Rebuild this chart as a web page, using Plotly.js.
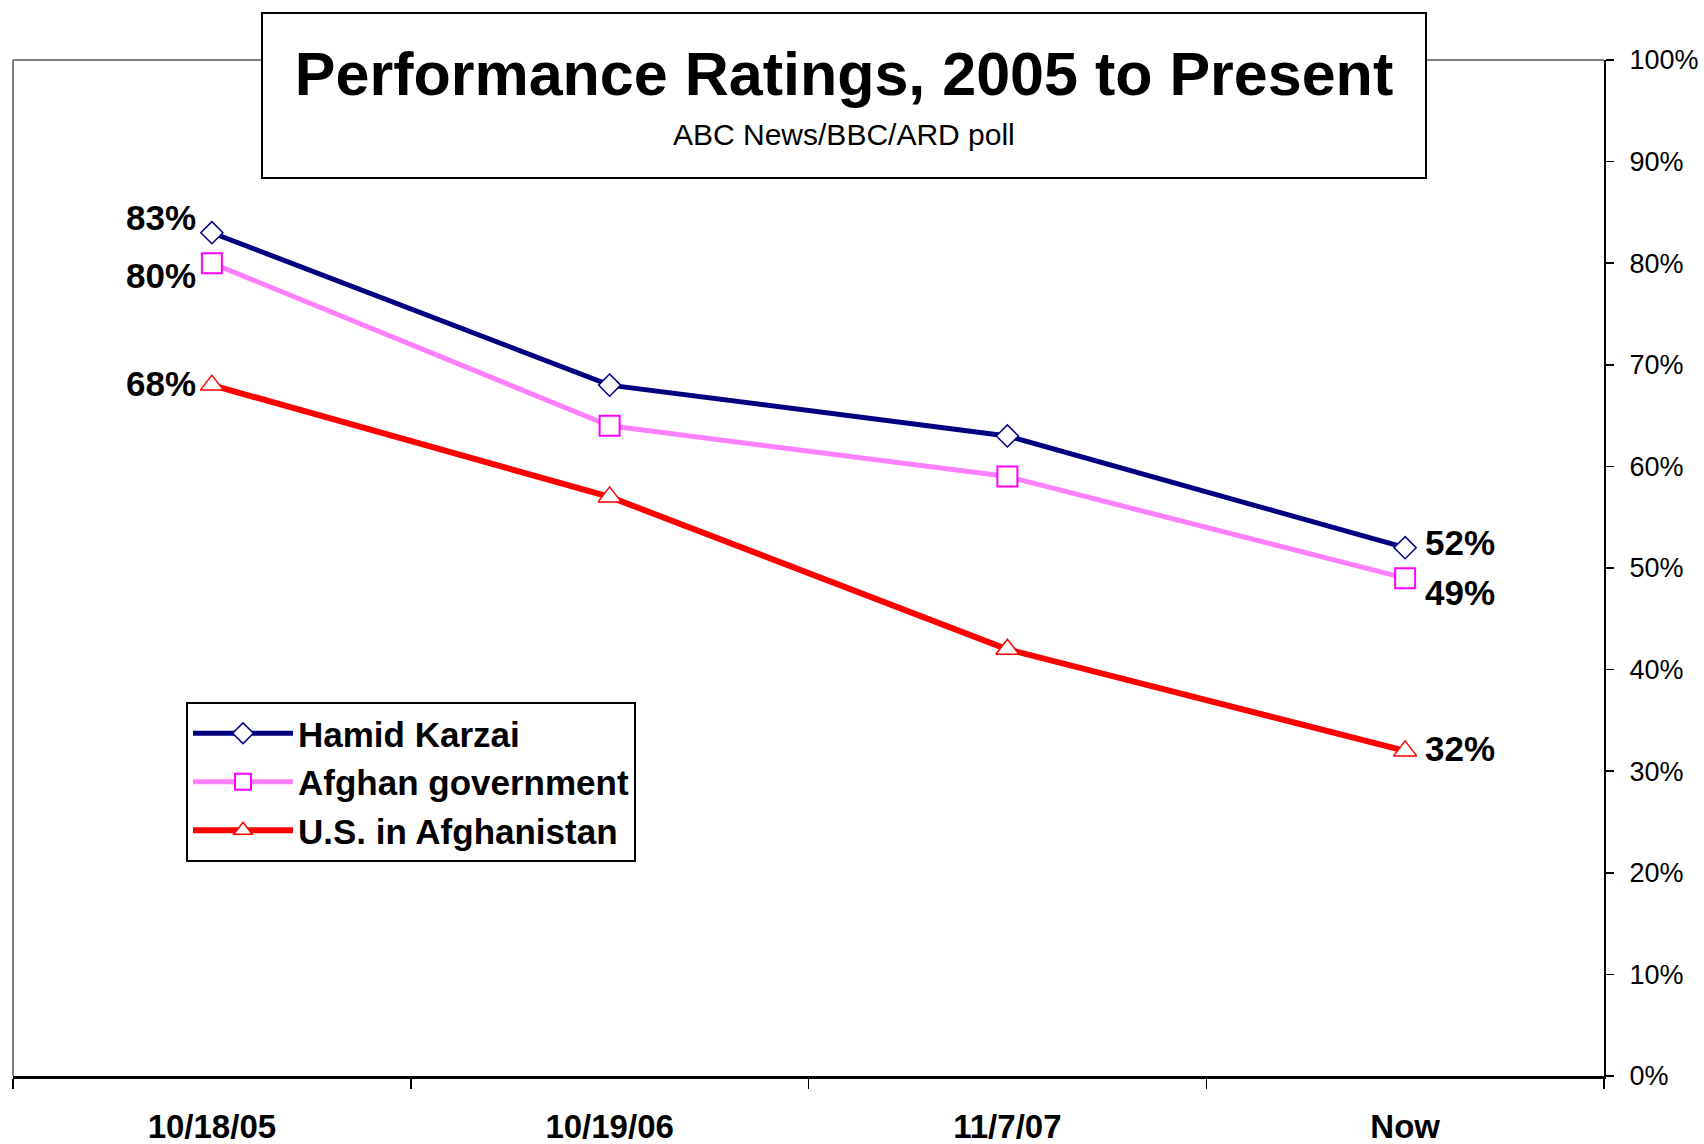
<!DOCTYPE html>
<html>
<head>
<meta charset="utf-8">
<script src="https://cdn.plot.ly/plotly-3.0.1.min.js"></script>
<style>html,body{margin:0;padding:0;background:#fff;}#chart{width:1704px;height:1144px;}</style>
</head>
<body>
<div id="chart"></div>
<script>
// ---- data ----
const categories = ["10/18/05", "10/19/06", "11/7/07", "Now"];
const karzai = [0.83, 0.68, 0.63, 0.52];
const afghanGov = [0.80, 0.64, 0.59, 0.49];
const usInAfghanistan = [0.68, 0.57, 0.42, 0.32];
const seriesNames = ["Hamid Karzai", "Afghan government", "U.S. in Afghanistan"];
const titleText = "Performance Ratings, 2005 to Present";
const subtitleText = "ABC News/BBC/ARD poll";

const FONT = "Liberation Sans, Arial, sans-serif";

const traces = [
  {
    x: categories, y: karzai, name: seriesNames[0], type: "scatter", mode: "lines+markers",
    line: {color: "#000080", width: 5},
    marker: {symbol: "diamond", size: 17, color: "#ffffff", line: {color: "#000080", width: 1.5}}
  },
  {
    x: categories, y: afghanGov, name: seriesNames[1], type: "scatter", mode: "lines+markers",
    line: {color: "#ff80ff", width: 5},
    marker: {symbol: "square", size: 20, color: "#ffffff", line: {color: "#ff00ff", width: 2}}
  },
  {
    x: categories, y: usInAfghanistan, name: seriesNames[2], type: "scatter", mode: "lines+markers",
    line: {color: "#ff0000", width: 6},
    marker: {symbol: "triangle-up", size: 20, color: "#ffffff", line: {color: "#ff0000", width: 1.5}}
  }
];

// data labels at first and last points
const allSeries = [karzai, afghanGov, usInAfghanistan];
const firstShift = [15, -12, 2];
const lastShift = [5, -14, 2];
const annotations = [];
allSeries.forEach((s, i) => {
  const last = s.length - 1;
  annotations.push({
    x: categories[0], y: s[0], xref: "x", yref: "y",
    text: Math.round(s[0] * 100) + "%", showarrow: false,
    xanchor: "right", yanchor: "middle", xshift: -14, yshift: firstShift[i],
    font: {family: FONT, size: 35, color: "#000", weight: "bold"}
  });
  annotations.push({
    x: categories[last], y: s[last], xref: "x", yref: "y",
    text: Math.round(s[last] * 100) + "%", showarrow: false,
    xanchor: "left", yanchor: "middle", xshift: 18, yshift: lastShift[i],
    font: {family: FONT, size: 35, color: "#000", weight: "bold"}
  });
});
// subtitle
annotations.push({
  text: subtitleText, xref: "paper", yref: "paper",
  x: (844 - 13) / 1591, y: (1076 - 134) / 1016, xanchor: "center", yanchor: "middle",
  showarrow: false, font: {family: FONT, size: 30, color: "#000"}
});

const layout = {
  width: 1704, height: 1144,
  paper_bgcolor: "#ffffff", plot_bgcolor: "#ffffff",
  margin: {l: 13, r: 100, t: 60, b: 68, pad: 0},
  showlegend: true,
  title: {
    text: "<b>" + titleText + "</b>",
    x: 844 / 1704, xanchor: "center", xref: "container",
    y: 1 - 74 / 1144, yanchor: "middle", yref: "container",
    font: {family: FONT, size: 61, color: "#000"}
  },
  xaxis: {
    type: "category", range: [-0.5, 3.5],
    showgrid: false, zeroline: false,
    showline: true, linecolor: "#000", linewidth: 3,
    ticks: "outside", tickson: "boundaries", ticklen: 10, tickcolor: "#000", tickwidth: 1.5,
    ticklabelstandoff: 19,
    tickfont: {family: FONT, size: 33, color: "#000", weight: "bold"},
    fixedrange: true
  },
  yaxis: {
    side: "right", range: [0, 1], dtick: 0.1, tickformat: ".0%",
    showgrid: false, zeroline: false,
    showline: true, linecolor: "#000", linewidth: 2,
    ticks: "outside", ticklen: 8, tickcolor: "#000", tickwidth: 1.5,
    ticklabelstandoff: 10,
    tickfont: {family: FONT, size: 27, color: "#000"},
    fixedrange: true
  },
  legend: {
    x: (186 - 13) / 1591, y: (1076 - 702) / 1016, xanchor: "left", yanchor: "top",
    bgcolor: "#ffffff", bordercolor: "#000", borderwidth: 2,
    font: {family: FONT, size: 35, color: "#000", weight: "bold"},
    itemwidth: 100, tracegroupgap: 0, entrywidth: 420, entrywidthmode: "pixels"
  },
  shapes: [
    // plot area frame (left and top, grey)
    {type: "line", xref: "paper", yref: "paper", x0: 0, x1: 0, y0: 0, y1: 1, line: {color: "#808080", width: 2}, layer: "below"},
    {type: "line", xref: "paper", yref: "paper", x0: 0, x1: 1, y0: 1, y1: 1, line: {color: "#808080", width: 2}, layer: "below"},
    // title box
    {type: "rect", xref: "paper", yref: "paper",
     x0: (262 - 13) / 1591, x1: (1426 - 13) / 1591,
     y0: (1076 - 178) / 1016, y1: (1076 - 13) / 1016,
     fillcolor: "#ffffff", line: {color: "#000", width: 2}, layer: "above"}
  ],
  annotations: annotations
};

Plotly.newPlot("chart", traces, layout, {displayModeBar: false, staticPlot: true});
</script>
</body>
</html>
